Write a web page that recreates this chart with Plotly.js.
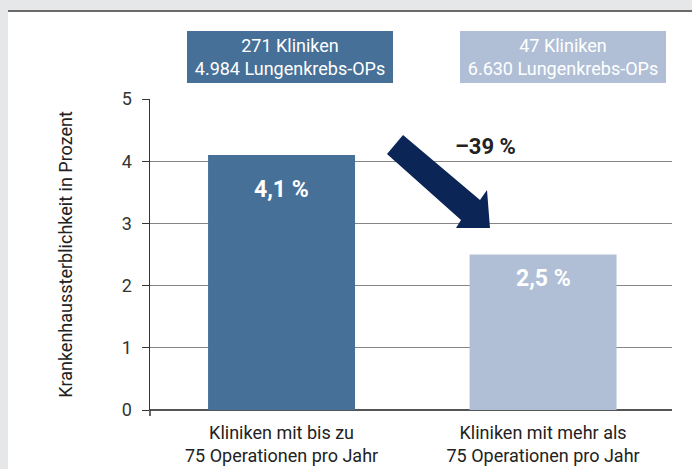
<!DOCTYPE html>
<html>
<head>
<meta charset="utf-8">
<script src="https://cdn.plot.ly/plotly-3.0.1.min.js"></script>
<style>
  html, body { margin: 0; padding: 0; background: #e6e7e9; width: 692px; height: 469px; overflow: hidden; }
  #panel { position: absolute; left: 8px; top: 10px; width: 684px; height: 457px; border-top: 2px solid #6a6a6a; background: #ffffff; }
  #chart { width: 684px; height: 457px; }
</style>
</head>
<body>
<div id="panel"><div id="chart"></div></div>
<script>
const categories = ["Kliniken mit bis zu<br>75 Operationen pro Jahr", "Kliniken mit mehr als<br>75 Operationen pro Jahr"];
const mortality = [4.1, 2.5];
const valueLabels = ["4,1 %", "2,5 %"];
const clinicLabels = ["271 Kliniken<br>4.984 Lungenkrebs-OPs", "47 Kliniken<br>6.630 Lungenkrebs-OPs"];
const changeLabel = "–39 %";
const yTicks = [0, 1, 2, 3, 4, 5];
const yTitle = "Krankenhaussterblichkeit in Prozent";

const barColors = ["#467097", "#b0bfd6"];
const FONT = "Roboto, 'Liberation Sans', Arial, sans-serif";

// pixel -> paper helpers (plot area: x 150..672, y 99..410 on page)
const px = v => (v - 150) / 522;
const py = v => (410 - v) / 311;

const arrowPts = [[403,135],[480,200],[487,190],[490,228],[456,228],[461,220],[387,154]];
const arrowPath = "M " + arrowPts.map(p => px(p[0]).toFixed(4) + "," + py(p[1]).toFixed(4)).join(" L ") + " Z";

const trace = {
  type: "bar",
  x: categories,
  y: mortality,
  width: 0.562,
  marker: { color: barColors, line: { width: 0 } },
  hoverinfo: "skip"
};

const annotations = [];
valueLabels.forEach((t, i) => {
  annotations.push({
    x: categories[i], y: mortality[i], xref: "x", yref: "y",
    text: "<b>" + t + "</b>", showarrow: false,
    yanchor: "middle", yshift: i === 0 ? -35 : -24,
    font: { family: FONT, size: 23, color: "#ffffff" }
  });
});
const boxCenters = [290, 562.5];
clinicLabels.forEach((t, i) => {
  annotations.push({
    x: px(boxCenters[i]), y: py(57), xref: "paper", yref: "paper",
    text: t, showarrow: false, align: "center",
    xanchor: "center", yanchor: "middle",
    width: 206, height: 52, bgcolor: barColors[i], borderpad: 0, borderwidth: 0,
    font: { family: FONT, size: 18, color: "#ffffff" }
  });
});
annotations.push({
  x: px(485), y: py(146), xref: "paper", yref: "paper",
  text: "<b>" + changeLabel + "</b>", showarrow: false,
  xanchor: "center", yanchor: "middle",
  font: { family: FONT, size: 22, color: "#222222" }
});

const layout = {
  width: 684, height: 457,
  margin: { l: 142, r: 20, t: 87, b: 59, pad: 0 },
  paper_bgcolor: "#ffffff", plot_bgcolor: "#ffffff",
  showlegend: false,
  font: { family: FONT, size: 18, color: "#222222" },
  xaxis: {
    type: "category",
    range: [-0.503, 1.493],
    showgrid: false, zeroline: false,
    showline: false,
    ticks: "",
    tickfont: { family: FONT, size: 18, color: "#222222" },
    ticklabelstandoff: 10,
    fixedrange: true
  },
  yaxis: {
    range: [0, 5],
    tickvals: yTicks,
    ticktext: yTicks.map(String),
    showgrid: true, gridcolor: "#858585", gridwidth: 1,
    zeroline: true, zerolinecolor: "#555555", zerolinewidth: 2,
    showline: true, linecolor: "#333333", linewidth: 1.5,
    ticks: "outside", ticklen: 7, tickcolor: "#333333", tickwidth: 1,
    tickfont: { family: FONT, size: 18, color: "#333333" },
    ticklabelstandoff: 6,
    title: { text: yTitle, font: { family: FONT, size: 18, color: "#222222" }, standoff: 44 },
    fixedrange: true
  },
  shapes: [
    { type: "path", xref: "paper", yref: "paper", path: arrowPath, fillcolor: "#0b2557", line: { width: 0 }, layer: "above" },
    { type: "line", xref: "paper", yref: "paper", x0: 0, x1: 0, y0: 0, y1: py(416), line: { color: "#333333", width: 1.5 } }
  ],
  annotations: annotations
};

Plotly.newPlot("chart", [trace], layout, { staticPlot: true, displayModeBar: false });
</script>
</body>
</html>
